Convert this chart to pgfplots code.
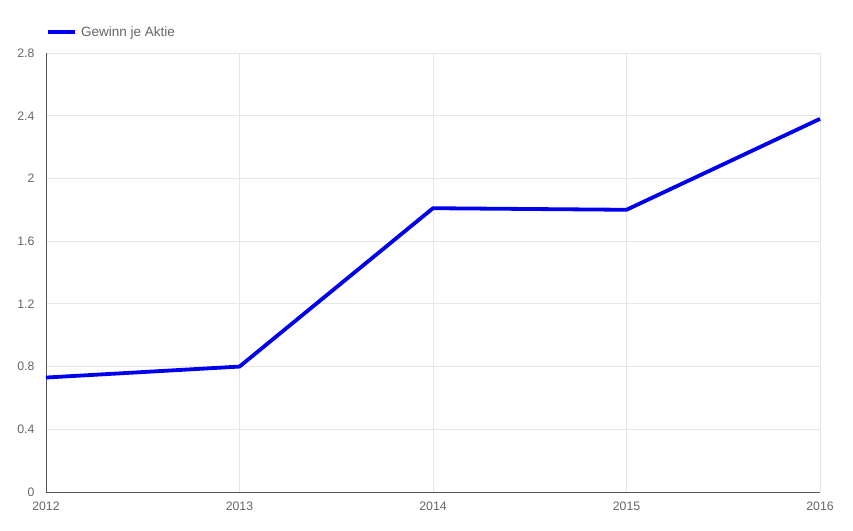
\documentclass[border=0pt]{standalone}
\usepackage{fontspec}
\setmainfont{Liberation Sans}
\usepackage{pgfplots}
\pgfplotsset{compat=1.18}
\definecolor{txt}{HTML}{666666}
\definecolor{gridc}{HTML}{E6E6E6}
\definecolor{axc}{HTML}{555555}
\definecolor{lineblue}{HTML}{0000EE}
\begin{document}
\begin{tikzpicture}
\begin{axis}[
  name=ax,
  scale only axis,
  width=774pt, height=439pt,
  xmin=2012, xmax=2016, ymin=0, ymax=2.8,
  xtick={2012,2013,2014,2015,2016},
  xticklabels={2012,2013,2014,2015,2016},
  ytick={0,0.4,0.8,1.2,1.6,2,2.4,2.8},
  yticklabels={0,0.4,0.8,1.2,1.6,2,2.4,2.8},
  grid=major,
  major grid style={draw=gridc, line width=0.8pt},
  axis x line*=bottom, axis y line*=left,
  axis line style={draw=axc, line width=0.9pt, -},
  major tick length=0pt,
  tick label style={font=\fontsize{12.3}{14}\selectfont, text=txt},
  xticklabel style={yshift=-6pt},
  yticklabel style={xshift=-8pt},
  legend style={draw=none, fill=none, at={(rel axis cs:0,1)}, anchor=south west,
    xshift=0pt, yshift=13pt, font=\fontsize{13.5}{16}\selectfont, text=txt,
    inner sep=0pt, nodes={inner xsep=4pt}},
  legend image code/.code={\draw[#1, line width=4pt] (-3pt,0pt) -- (24pt,0pt);},
  clip=false,
]
\addplot[lineblue, line width=3.8pt, line join=miter] coordinates {
  (2012,0.73) (2013,0.80) (2014,1.81) (2015,1.80) (2016,2.38)
};
\addlegendentry{Gewinn je Aktie}
\end{axis}
\path (ax.south west) ++(-46pt,-38pt) coordinate (bl);
\path (ax.north east) ++(33pt,53pt) coordinate (tr);
\path (bl) rectangle (tr);
\end{tikzpicture}
\end{document}
